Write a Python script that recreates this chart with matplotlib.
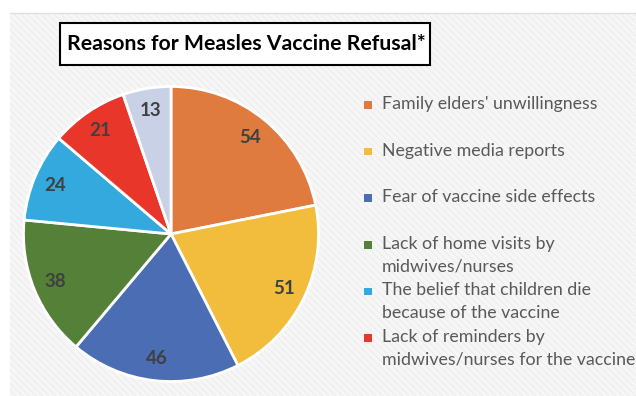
import numpy as np
import matplotlib.pyplot as plt
from matplotlib.patches import Rectangle

plt.rcParams['font.family'] = ['Lato', 'DejaVu Sans']
plt.rcParams['hatch.linewidth'] = 0.5

title = 'Reasons for Measles Vaccine Refusal*'
reasons = ["Family elders' unwillingness",
           'Negative media reports',
           'Fear of vaccine side effects',
           'Lack of home visits by\nmidwives/nurses',
           'The belief that children die\nbecause of the vaccine',
           'Lack of reminders by\nmidwives/nurses for the vaccine',
           'Other']
counts = [54, 51, 46, 38, 24, 21, 13]
colors = ['#E07B40', '#F2BC3C', '#4A6DB3', '#548038', '#33A9DD', '#E8372A', '#C9D1E6']
shown = 6  # the last entry is cut off in the original legend

fig = plt.figure(figsize=(6.36, 3.96), dpi=100)

# hatched light grey backdrop
bg = Rectangle((10/636, 0), 1 - 10/636, 1 - 13/396, transform=fig.transFigure,
               facecolor='#f6f6f6', edgecolor='#e8e8e8', hatch='\\\\\\\\\\', lw=0, zorder=-10)
fig.patches.append(bg)
fig.add_artist(plt.Line2D([10/636, 1], [1 - 13/396]*2, color='#e0e0e0', lw=1))

# pie
ax = fig.add_axes([22/636, 13/396, 298/636, 298/396])
wedges, texts, autotexts = ax.pie(counts, colors=colors, startangle=90, counterclock=False,
                                  autopct=lambda p: '%d' % round(p * sum(counts) / 100),
                                  pctdistance=0.85,
                                  wedgeprops=dict(edgecolor='white', linewidth=2))
for t in autotexts:
    t.set_color('#404040')
    t.set_fontweight('bold')
    t.set_fontsize(13.5)
ax.set_xlim(-1.01, 1.01)
ax.set_ylim(-1.01, 1.01)
ax.set_aspect('equal')

# title box
fig.add_artist(Rectangle((60/636, 1 - 65/396), 370/636, 42/396, transform=fig.transFigure,
                         facecolor='white', edgecolor='black', lw=1.5))
fig.text(246/636, 1 - 44/396, title, ha='center', va='center',
         fontsize=15.3, fontweight='bold', color='black')

# legend
lax = fig.add_axes([0, 0, 1, 1])
lax.set_xlim(0, 636)
lax.set_ylim(396, 0)
lax.axis('off')
lax.patch.set_alpha(0)
ys = 105 + 46.6 * np.arange(shown)
lax.scatter([368] * shown, ys, s=30, marker='s', c=colors[:shown], linewidths=0)
for y, lab in zip(ys, reasons[:shown]):
    lax.text(382, y - 9, lab, ha='left', va='top', fontsize=12.8, color='#595959',
             linespacing=1.48)

fig.savefig('out.png', dpi=100)
